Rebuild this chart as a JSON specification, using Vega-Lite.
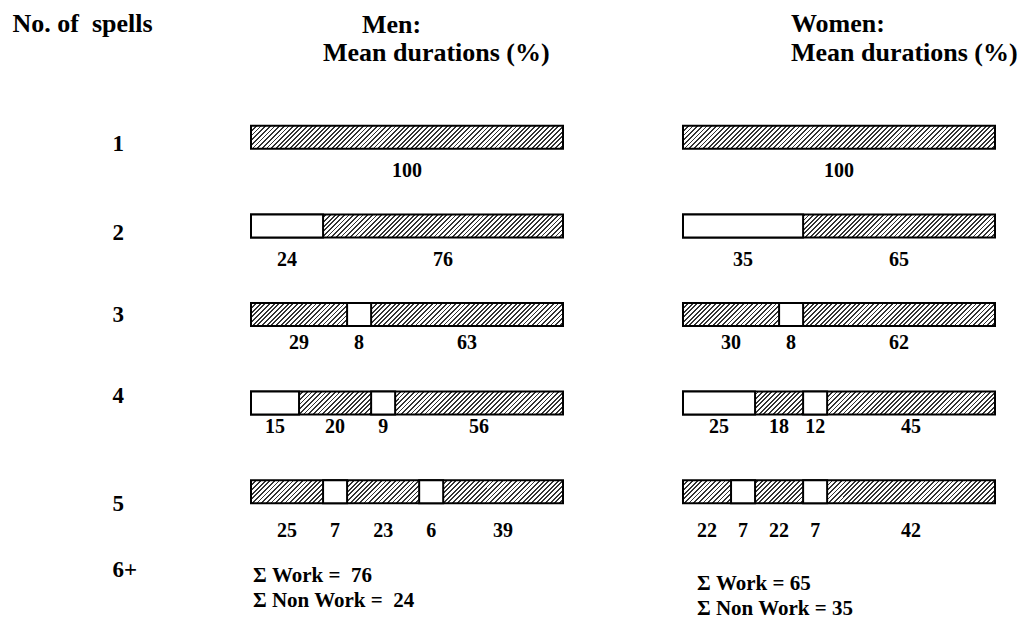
{
  "$schema": "https://vega.github.io/schema/vega-lite/v6.json",
  "background": "white",
  "padding": {"left": 12, "top": 10, "right": 0, "bottom": 0},
  "spacing": 120,
  "bounds": "flush",
  "config": {
    "font": "Liberation Serif",
    "view": {"stroke": null},
    "text": {"font": "Liberation Serif", "fontWeight": "bold", "color": "black"}
  },
  "datasets": {
    "segments": [
      {"sex": "Men", "spells": "1", "seq": 1, "kind": "Work", "drawn": 100, "pct": 100},
      {"sex": "Men", "spells": "2", "seq": 1, "kind": "Non work", "drawn": 23.1, "pct": 24},
      {"sex": "Men", "spells": "2", "seq": 2, "kind": "Work", "drawn": 76.9, "pct": 76},
      {"sex": "Men", "spells": "3", "seq": 1, "kind": "Work", "drawn": 30.8, "pct": 29},
      {"sex": "Men", "spells": "3", "seq": 2, "kind": "Non work", "drawn": 7.7, "pct": 8},
      {"sex": "Men", "spells": "3", "seq": 3, "kind": "Work", "drawn": 61.5, "pct": 63},
      {"sex": "Men", "spells": "4", "seq": 1, "kind": "Non work", "drawn": 15.4, "pct": 15},
      {"sex": "Men", "spells": "4", "seq": 2, "kind": "Work", "drawn": 23.1, "pct": 20},
      {"sex": "Men", "spells": "4", "seq": 3, "kind": "Non work", "drawn": 7.7, "pct": 9},
      {"sex": "Men", "spells": "4", "seq": 4, "kind": "Work", "drawn": 53.8, "pct": 56},
      {"sex": "Men", "spells": "5", "seq": 1, "kind": "Work", "drawn": 23.1, "pct": 25},
      {"sex": "Men", "spells": "5", "seq": 2, "kind": "Non work", "drawn": 7.7, "pct": 7},
      {"sex": "Men", "spells": "5", "seq": 3, "kind": "Work", "drawn": 23.1, "pct": 23},
      {"sex": "Men", "spells": "5", "seq": 4, "kind": "Non work", "drawn": 7.7, "pct": 6},
      {"sex": "Men", "spells": "5", "seq": 5, "kind": "Work", "drawn": 38.4, "pct": 39},
      {"sex": "Women", "spells": "1", "seq": 1, "kind": "Work", "drawn": 100, "pct": 100},
      {"sex": "Women", "spells": "2", "seq": 1, "kind": "Non work", "drawn": 38.5, "pct": 35},
      {"sex": "Women", "spells": "2", "seq": 2, "kind": "Work", "drawn": 61.5, "pct": 65},
      {"sex": "Women", "spells": "3", "seq": 1, "kind": "Work", "drawn": 30.8, "pct": 30},
      {"sex": "Women", "spells": "3", "seq": 2, "kind": "Non work", "drawn": 7.7, "pct": 8},
      {"sex": "Women", "spells": "3", "seq": 3, "kind": "Work", "drawn": 61.5, "pct": 62},
      {"sex": "Women", "spells": "4", "seq": 1, "kind": "Non work", "drawn": 23.1, "pct": 25},
      {"sex": "Women", "spells": "4", "seq": 2, "kind": "Work", "drawn": 15.4, "pct": 18},
      {"sex": "Women", "spells": "4", "seq": 3, "kind": "Non work", "drawn": 7.7, "pct": 12},
      {"sex": "Women", "spells": "4", "seq": 4, "kind": "Work", "drawn": 53.8, "pct": 45},
      {"sex": "Women", "spells": "5", "seq": 1, "kind": "Work", "drawn": 15.4, "pct": 22},
      {"sex": "Women", "spells": "5", "seq": 2, "kind": "Non work", "drawn": 7.7, "pct": 7},
      {"sex": "Women", "spells": "5", "seq": 3, "kind": "Work", "drawn": 15.4, "pct": 22},
      {"sex": "Women", "spells": "5", "seq": 4, "kind": "Non work", "drawn": 7.7, "pct": 7},
      {"sex": "Women", "spells": "5", "seq": 5, "kind": "Work", "drawn": 53.8, "pct": 42}
    ],
    "totals": [
      {"sex": "Men", "spells": "6+", "work": 76, "nonwork": 24},
      {"sex": "Women", "spells": "6+", "work": 65, "nonwork": 35}
    ]
  },
  "hconcat": [
    {
      "width": 312,
      "height": 531.6,
      "title": {
        "text": ["\u200b\u00a0\u00a0\u00a0\u00a0\u00a0\u00a0Men:", "Mean durations (%)"],
        "anchor": "start",
        "frame": "group",
        "dx": 72,
        "offset": -56,
        "font": "Liberation Serif",
        "fontSize": 26,
        "fontWeight": "bold",
        "lineHeight": 28.7,
        "color": "black"
      },
      "data": {"name": "segments"},
      "transform": [
        {"filter": "datum.sex == 'Men'"},
        {"stack": "drawn", "groupby": ["spells"], "sort": [{"field": "seq", "order": "ascending"}], "as": ["x0", "x1"]},
        {"calculate": "(datum.x0 + datum.x1) / 2", "as": "mid"}
      ],
      "encoding": {
        "y": {
          "field": "spells",
          "type": "ordinal",
          "scale": {"domain": ["1", "2", "3", "4", "5", "6+"], "paddingInner": 0, "paddingOuter": 0},
          "axis": {
            "title": "No. of\u00a0 spells",
            "titleAngle": 0,
            "titleAlign": "left",
            "titleBaseline": "alphabetic",
            "titleX": -239,
            "titleY": -61.7,
            "titleFont": "Liberation Serif",
            "titleFontSize": 26,
            "titleFontWeight": "bold",
            "titleColor": "black",
            "labelAlign": "left",
            "labelBaseline": "middle",
            "labelPadding": 139,
            "labelOffset": {"expr": "datum.value == '3' ? 1 : datum.value == '4' ? -7 : datum.value == '5' ? 12 : datum.value == '6+' ? -10 : 7"},
            "labelFont": "Liberation Serif",
            "labelFontSize": 23,
            "labelFontWeight": "bold",
            "labelColor": "black",
            "ticks": false,
            "tickSize": 0,
            "domain": false,
            "grid": false
          }
        }
      },
      "layer": [
        {
          "transform": [{"aggregate": [{"op": "min", "field": "x0", "as": "b0"}, {"op": "max", "field": "x1", "as": "b1"}], "groupby": ["spells"]}],
          "mark": {
            "type": "bar",
            "size": 23,
            "stroke": "black",
            "strokeWidth": 2,
            "fill": {
              "gradient": "linear", "x1": 0, "y1": 0, "x2": 1.0679, "y2": 0.0787,
              "stops": [
                {"offset":0,"color":"#333"},{"offset":0.00556,"color":"#333"},{"offset":0.00556,"color":"#fff"},{"offset":0.01389,"color":"#fff"},
                {"offset":0.01389,"color":"#333"},{"offset":0.01944,"color":"#333"},{"offset":0.01944,"color":"#fff"},{"offset":0.02778,"color":"#fff"},
                {"offset":0.02778,"color":"#333"},{"offset":0.03333,"color":"#333"},{"offset":0.03333,"color":"#fff"},{"offset":0.04167,"color":"#fff"},
                {"offset":0.04167,"color":"#333"},{"offset":0.04722,"color":"#333"},{"offset":0.04722,"color":"#fff"},{"offset":0.05556,"color":"#fff"},
                {"offset":0.05556,"color":"#333"},{"offset":0.06111,"color":"#333"},{"offset":0.06111,"color":"#fff"},{"offset":0.06944,"color":"#fff"},
                {"offset":0.06944,"color":"#333"},{"offset":0.075,"color":"#333"},{"offset":0.075,"color":"#fff"},{"offset":0.08333,"color":"#fff"},
                {"offset":0.08333,"color":"#333"},{"offset":0.08889,"color":"#333"},{"offset":0.08889,"color":"#fff"},{"offset":0.09722,"color":"#fff"},
                {"offset":0.09722,"color":"#333"},{"offset":0.10278,"color":"#333"},{"offset":0.10278,"color":"#fff"},{"offset":0.11111,"color":"#fff"},
                {"offset":0.11111,"color":"#333"},{"offset":0.11667,"color":"#333"},{"offset":0.11667,"color":"#fff"},{"offset":0.125,"color":"#fff"},
                {"offset":0.125,"color":"#333"},{"offset":0.13056,"color":"#333"},{"offset":0.13056,"color":"#fff"},{"offset":0.13889,"color":"#fff"},
                {"offset":0.13889,"color":"#333"},{"offset":0.14444,"color":"#333"},{"offset":0.14444,"color":"#fff"},{"offset":0.15278,"color":"#fff"},
                {"offset":0.15278,"color":"#333"},{"offset":0.15833,"color":"#333"},{"offset":0.15833,"color":"#fff"},{"offset":0.16667,"color":"#fff"},
                {"offset":0.16667,"color":"#333"},{"offset":0.17222,"color":"#333"},{"offset":0.17222,"color":"#fff"},{"offset":0.18056,"color":"#fff"},
                {"offset":0.18056,"color":"#333"},{"offset":0.18611,"color":"#333"},{"offset":0.18611,"color":"#fff"},{"offset":0.19444,"color":"#fff"},
                {"offset":0.19444,"color":"#333"},{"offset":0.2,"color":"#333"},{"offset":0.2,"color":"#fff"},{"offset":0.20833,"color":"#fff"},
                {"offset":0.20833,"color":"#333"},{"offset":0.21389,"color":"#333"},{"offset":0.21389,"color":"#fff"},{"offset":0.22222,"color":"#fff"},
                {"offset":0.22222,"color":"#333"},{"offset":0.22778,"color":"#333"},{"offset":0.22778,"color":"#fff"},{"offset":0.23611,"color":"#fff"},
                {"offset":0.23611,"color":"#333"},{"offset":0.24167,"color":"#333"},{"offset":0.24167,"color":"#fff"},{"offset":0.25,"color":"#fff"},
                {"offset":0.25,"color":"#333"},{"offset":0.25556,"color":"#333"},{"offset":0.25556,"color":"#fff"},{"offset":0.26389,"color":"#fff"},
                {"offset":0.26389,"color":"#333"},{"offset":0.26944,"color":"#333"},{"offset":0.26944,"color":"#fff"},{"offset":0.27778,"color":"#fff"},
                {"offset":0.27778,"color":"#333"},{"offset":0.28333,"color":"#333"},{"offset":0.28333,"color":"#fff"},{"offset":0.29167,"color":"#fff"},
                {"offset":0.29167,"color":"#333"},{"offset":0.29722,"color":"#333"},{"offset":0.29722,"color":"#fff"},{"offset":0.30556,"color":"#fff"},
                {"offset":0.30556,"color":"#333"},{"offset":0.31111,"color":"#333"},{"offset":0.31111,"color":"#fff"},{"offset":0.31944,"color":"#fff"},
                {"offset":0.31944,"color":"#333"},{"offset":0.325,"color":"#333"},{"offset":0.325,"color":"#fff"},{"offset":0.33333,"color":"#fff"},
                {"offset":0.33333,"color":"#333"},{"offset":0.33889,"color":"#333"},{"offset":0.33889,"color":"#fff"},{"offset":0.34722,"color":"#fff"},
                {"offset":0.34722,"color":"#333"},{"offset":0.35278,"color":"#333"},{"offset":0.35278,"color":"#fff"},{"offset":0.36111,"color":"#fff"},
                {"offset":0.36111,"color":"#333"},{"offset":0.36667,"color":"#333"},{"offset":0.36667,"color":"#fff"},{"offset":0.375,"color":"#fff"},
                {"offset":0.375,"color":"#333"},{"offset":0.38056,"color":"#333"},{"offset":0.38056,"color":"#fff"},{"offset":0.38889,"color":"#fff"},
                {"offset":0.38889,"color":"#333"},{"offset":0.39444,"color":"#333"},{"offset":0.39444,"color":"#fff"},{"offset":0.40278,"color":"#fff"},
                {"offset":0.40278,"color":"#333"},{"offset":0.40833,"color":"#333"},{"offset":0.40833,"color":"#fff"},{"offset":0.41667,"color":"#fff"},
                {"offset":0.41667,"color":"#333"},{"offset":0.42222,"color":"#333"},{"offset":0.42222,"color":"#fff"},{"offset":0.43056,"color":"#fff"},
                {"offset":0.43056,"color":"#333"},{"offset":0.43611,"color":"#333"},{"offset":0.43611,"color":"#fff"},{"offset":0.44444,"color":"#fff"},
                {"offset":0.44444,"color":"#333"},{"offset":0.45,"color":"#333"},{"offset":0.45,"color":"#fff"},{"offset":0.45833,"color":"#fff"},
                {"offset":0.45833,"color":"#333"},{"offset":0.46389,"color":"#333"},{"offset":0.46389,"color":"#fff"},{"offset":0.47222,"color":"#fff"},
                {"offset":0.47222,"color":"#333"},{"offset":0.47778,"color":"#333"},{"offset":0.47778,"color":"#fff"},{"offset":0.48611,"color":"#fff"},
                {"offset":0.48611,"color":"#333"},{"offset":0.49167,"color":"#333"},{"offset":0.49167,"color":"#fff"},{"offset":0.5,"color":"#fff"},
                {"offset":0.5,"color":"#333"},{"offset":0.50556,"color":"#333"},{"offset":0.50556,"color":"#fff"},{"offset":0.51389,"color":"#fff"},
                {"offset":0.51389,"color":"#333"},{"offset":0.51944,"color":"#333"},{"offset":0.51944,"color":"#fff"},{"offset":0.52778,"color":"#fff"},
                {"offset":0.52778,"color":"#333"},{"offset":0.53333,"color":"#333"},{"offset":0.53333,"color":"#fff"},{"offset":0.54167,"color":"#fff"},
                {"offset":0.54167,"color":"#333"},{"offset":0.54722,"color":"#333"},{"offset":0.54722,"color":"#fff"},{"offset":0.55556,"color":"#fff"},
                {"offset":0.55556,"color":"#333"},{"offset":0.56111,"color":"#333"},{"offset":0.56111,"color":"#fff"},{"offset":0.56944,"color":"#fff"},
                {"offset":0.56944,"color":"#333"},{"offset":0.575,"color":"#333"},{"offset":0.575,"color":"#fff"},{"offset":0.58333,"color":"#fff"},
                {"offset":0.58333,"color":"#333"},{"offset":0.58889,"color":"#333"},{"offset":0.58889,"color":"#fff"},{"offset":0.59722,"color":"#fff"},
                {"offset":0.59722,"color":"#333"},{"offset":0.60278,"color":"#333"},{"offset":0.60278,"color":"#fff"},{"offset":0.61111,"color":"#fff"},
                {"offset":0.61111,"color":"#333"},{"offset":0.61667,"color":"#333"},{"offset":0.61667,"color":"#fff"},{"offset":0.625,"color":"#fff"},
                {"offset":0.625,"color":"#333"},{"offset":0.63056,"color":"#333"},{"offset":0.63056,"color":"#fff"},{"offset":0.63889,"color":"#fff"},
                {"offset":0.63889,"color":"#333"},{"offset":0.64444,"color":"#333"},{"offset":0.64444,"color":"#fff"},{"offset":0.65278,"color":"#fff"},
                {"offset":0.65278,"color":"#333"},{"offset":0.65833,"color":"#333"},{"offset":0.65833,"color":"#fff"},{"offset":0.66667,"color":"#fff"},
                {"offset":0.66667,"color":"#333"},{"offset":0.67222,"color":"#333"},{"offset":0.67222,"color":"#fff"},{"offset":0.68056,"color":"#fff"},
                {"offset":0.68056,"color":"#333"},{"offset":0.68611,"color":"#333"},{"offset":0.68611,"color":"#fff"},{"offset":0.69444,"color":"#fff"},
                {"offset":0.69444,"color":"#333"},{"offset":0.7,"color":"#333"},{"offset":0.7,"color":"#fff"},{"offset":0.70833,"color":"#fff"},
                {"offset":0.70833,"color":"#333"},{"offset":0.71389,"color":"#333"},{"offset":0.71389,"color":"#fff"},{"offset":0.72222,"color":"#fff"},
                {"offset":0.72222,"color":"#333"},{"offset":0.72778,"color":"#333"},{"offset":0.72778,"color":"#fff"},{"offset":0.73611,"color":"#fff"},
                {"offset":0.73611,"color":"#333"},{"offset":0.74167,"color":"#333"},{"offset":0.74167,"color":"#fff"},{"offset":0.75,"color":"#fff"},
                {"offset":0.75,"color":"#333"},{"offset":0.75556,"color":"#333"},{"offset":0.75556,"color":"#fff"},{"offset":0.76389,"color":"#fff"},
                {"offset":0.76389,"color":"#333"},{"offset":0.76944,"color":"#333"},{"offset":0.76944,"color":"#fff"},{"offset":0.77778,"color":"#fff"},
                {"offset":0.77778,"color":"#333"},{"offset":0.78333,"color":"#333"},{"offset":0.78333,"color":"#fff"},{"offset":0.79167,"color":"#fff"},
                {"offset":0.79167,"color":"#333"},{"offset":0.79722,"color":"#333"},{"offset":0.79722,"color":"#fff"},{"offset":0.80556,"color":"#fff"},
                {"offset":0.80556,"color":"#333"},{"offset":0.81111,"color":"#333"},{"offset":0.81111,"color":"#fff"},{"offset":0.81944,"color":"#fff"},
                {"offset":0.81944,"color":"#333"},{"offset":0.825,"color":"#333"},{"offset":0.825,"color":"#fff"},{"offset":0.83333,"color":"#fff"},
                {"offset":0.83333,"color":"#333"},{"offset":0.83889,"color":"#333"},{"offset":0.83889,"color":"#fff"},{"offset":0.84722,"color":"#fff"},
                {"offset":0.84722,"color":"#333"},{"offset":0.85278,"color":"#333"},{"offset":0.85278,"color":"#fff"},{"offset":0.86111,"color":"#fff"},
                {"offset":0.86111,"color":"#333"},{"offset":0.86667,"color":"#333"},{"offset":0.86667,"color":"#fff"},{"offset":0.875,"color":"#fff"},
                {"offset":0.875,"color":"#333"},{"offset":0.88056,"color":"#333"},{"offset":0.88056,"color":"#fff"},{"offset":0.88889,"color":"#fff"},
                {"offset":0.88889,"color":"#333"},{"offset":0.89444,"color":"#333"},{"offset":0.89444,"color":"#fff"},{"offset":0.90278,"color":"#fff"},
                {"offset":0.90278,"color":"#333"},{"offset":0.90833,"color":"#333"},{"offset":0.90833,"color":"#fff"},{"offset":0.91667,"color":"#fff"},
                {"offset":0.91667,"color":"#333"},{"offset":0.92222,"color":"#333"},{"offset":0.92222,"color":"#fff"},{"offset":0.93056,"color":"#fff"},
                {"offset":0.93056,"color":"#333"},{"offset":0.93611,"color":"#333"},{"offset":0.93611,"color":"#fff"},{"offset":0.94444,"color":"#fff"},
                {"offset":0.94444,"color":"#333"},{"offset":0.95,"color":"#333"},{"offset":0.95,"color":"#fff"},{"offset":0.95833,"color":"#fff"},
                {"offset":0.95833,"color":"#333"},{"offset":0.96389,"color":"#333"},{"offset":0.96389,"color":"#fff"},{"offset":0.97222,"color":"#fff"},
                {"offset":0.97222,"color":"#333"},{"offset":0.97778,"color":"#333"},{"offset":0.97778,"color":"#fff"},{"offset":0.98611,"color":"#fff"},
                {"offset":0.98611,"color":"#333"},{"offset":0.99167,"color":"#333"},{"offset":0.99167,"color":"#fff"},{"offset":1,"color":"#fff"}
              ]
            }
          },
          "encoding": {
            "x": {"field": "b0", "type": "quantitative", "scale": {"domain": [0, 100], "nice": false}, "axis": null},
            "x2": {"field": "b1"}
          }
        },
        {
          "transform": [{"filter": "datum.kind == 'Non work'"}],
          "mark": {"type": "bar", "size": 23, "fill": "white", "stroke": "black", "strokeWidth": 2},
          "encoding": {
            "x": {"field": "x0", "type": "quantitative", "scale": {"domain": [0, 100], "nice": false}, "axis": null},
            "x2": {"field": "x1"}
          }
        },
        {
          "mark": {"type": "text", "fontSize": 20, "baseline": "middle", "dy": {"expr": "datum.spells == '3' ? 29 : datum.spells == '4' ? 24 : datum.spells == '5' ? 39.5 : 34"}},
          "encoding": {
            "x": {"field": "mid", "type": "quantitative", "scale": {"domain": [0, 100], "nice": false}, "axis": null},
            "text": {"field": "pct", "type": "quantitative"}
          }
        },
        {
          "data": {"name": "totals"},
          "transform": [{"filter": "datum.sex == 'Men'"}, {"calculate": "'Σ Work =\u00a0 ' + datum.work", "as": "line"}],
          "mark": {"type": "text", "fontSize": 21, "align": "left", "baseline": "middle", "dx": 2, "dy": -4},
          "encoding": {
            "x": {"datum": 0, "type": "quantitative", "scale": {"domain": [0, 100], "nice": false}, "axis": null},
            "text": {"field": "line", "type": "nominal"}
          }
        },
        {
          "data": {"name": "totals"},
          "transform": [{"filter": "datum.sex == 'Men'"}, {"calculate": "'Σ Non Work =\u00a0 ' + datum.nonwork", "as": "line"}],
          "mark": {"type": "text", "fontSize": 21, "align": "left", "baseline": "middle", "dx": 2, "dy": 21},
          "encoding": {
            "x": {"datum": 0, "type": "quantitative", "scale": {"domain": [0, 100], "nice": false}, "axis": null},
            "text": {"field": "line", "type": "nominal"}
          }
        }
      ]
    },
    {
      "width": 312,
      "height": 531.6,
      "title": {
        "text": ["Women:", "Mean durations (%)"],
        "anchor": "start",
        "frame": "group",
        "dx": 108,
        "offset": 27,
        "font": "Liberation Serif",
        "fontSize": 26,
        "fontWeight": "bold",
        "lineHeight": 28.7,
        "color": "black"
      },
      "data": {"name": "segments"},
      "transform": [
        {"filter": "datum.sex == 'Women'"},
        {"stack": "drawn", "groupby": ["spells"], "sort": [{"field": "seq", "order": "ascending"}], "as": ["x0", "x1"]},
        {"calculate": "(datum.x0 + datum.x1) / 2", "as": "mid"}
      ],
      "encoding": {
        "y": {
          "field": "spells",
          "type": "ordinal",
          "scale": {"domain": ["1", "2", "3", "4", "5", "6+"], "paddingInner": 0, "paddingOuter": 0},
          "axis": null
        }
      },
      "layer": [
        {
          "transform": [{"aggregate": [{"op": "min", "field": "x0", "as": "b0"}, {"op": "max", "field": "x1", "as": "b1"}], "groupby": ["spells"]}],
          "mark": {
            "type": "bar",
            "size": 23,
            "stroke": "black",
            "strokeWidth": 2,
            "fill": {
              "gradient": "linear", "x1": 0, "y1": 0, "x2": 1.0679, "y2": 0.0787,
              "stops": [
                {"offset":0,"color":"#333"},{"offset":0.00556,"color":"#333"},{"offset":0.00556,"color":"#fff"},{"offset":0.01389,"color":"#fff"},
                {"offset":0.01389,"color":"#333"},{"offset":0.01944,"color":"#333"},{"offset":0.01944,"color":"#fff"},{"offset":0.02778,"color":"#fff"},
                {"offset":0.02778,"color":"#333"},{"offset":0.03333,"color":"#333"},{"offset":0.03333,"color":"#fff"},{"offset":0.04167,"color":"#fff"},
                {"offset":0.04167,"color":"#333"},{"offset":0.04722,"color":"#333"},{"offset":0.04722,"color":"#fff"},{"offset":0.05556,"color":"#fff"},
                {"offset":0.05556,"color":"#333"},{"offset":0.06111,"color":"#333"},{"offset":0.06111,"color":"#fff"},{"offset":0.06944,"color":"#fff"},
                {"offset":0.06944,"color":"#333"},{"offset":0.075,"color":"#333"},{"offset":0.075,"color":"#fff"},{"offset":0.08333,"color":"#fff"},
                {"offset":0.08333,"color":"#333"},{"offset":0.08889,"color":"#333"},{"offset":0.08889,"color":"#fff"},{"offset":0.09722,"color":"#fff"},
                {"offset":0.09722,"color":"#333"},{"offset":0.10278,"color":"#333"},{"offset":0.10278,"color":"#fff"},{"offset":0.11111,"color":"#fff"},
                {"offset":0.11111,"color":"#333"},{"offset":0.11667,"color":"#333"},{"offset":0.11667,"color":"#fff"},{"offset":0.125,"color":"#fff"},
                {"offset":0.125,"color":"#333"},{"offset":0.13056,"color":"#333"},{"offset":0.13056,"color":"#fff"},{"offset":0.13889,"color":"#fff"},
                {"offset":0.13889,"color":"#333"},{"offset":0.14444,"color":"#333"},{"offset":0.14444,"color":"#fff"},{"offset":0.15278,"color":"#fff"},
                {"offset":0.15278,"color":"#333"},{"offset":0.15833,"color":"#333"},{"offset":0.15833,"color":"#fff"},{"offset":0.16667,"color":"#fff"},
                {"offset":0.16667,"color":"#333"},{"offset":0.17222,"color":"#333"},{"offset":0.17222,"color":"#fff"},{"offset":0.18056,"color":"#fff"},
                {"offset":0.18056,"color":"#333"},{"offset":0.18611,"color":"#333"},{"offset":0.18611,"color":"#fff"},{"offset":0.19444,"color":"#fff"},
                {"offset":0.19444,"color":"#333"},{"offset":0.2,"color":"#333"},{"offset":0.2,"color":"#fff"},{"offset":0.20833,"color":"#fff"},
                {"offset":0.20833,"color":"#333"},{"offset":0.21389,"color":"#333"},{"offset":0.21389,"color":"#fff"},{"offset":0.22222,"color":"#fff"},
                {"offset":0.22222,"color":"#333"},{"offset":0.22778,"color":"#333"},{"offset":0.22778,"color":"#fff"},{"offset":0.23611,"color":"#fff"},
                {"offset":0.23611,"color":"#333"},{"offset":0.24167,"color":"#333"},{"offset":0.24167,"color":"#fff"},{"offset":0.25,"color":"#fff"},
                {"offset":0.25,"color":"#333"},{"offset":0.25556,"color":"#333"},{"offset":0.25556,"color":"#fff"},{"offset":0.26389,"color":"#fff"},
                {"offset":0.26389,"color":"#333"},{"offset":0.26944,"color":"#333"},{"offset":0.26944,"color":"#fff"},{"offset":0.27778,"color":"#fff"},
                {"offset":0.27778,"color":"#333"},{"offset":0.28333,"color":"#333"},{"offset":0.28333,"color":"#fff"},{"offset":0.29167,"color":"#fff"},
                {"offset":0.29167,"color":"#333"},{"offset":0.29722,"color":"#333"},{"offset":0.29722,"color":"#fff"},{"offset":0.30556,"color":"#fff"},
                {"offset":0.30556,"color":"#333"},{"offset":0.31111,"color":"#333"},{"offset":0.31111,"color":"#fff"},{"offset":0.31944,"color":"#fff"},
                {"offset":0.31944,"color":"#333"},{"offset":0.325,"color":"#333"},{"offset":0.325,"color":"#fff"},{"offset":0.33333,"color":"#fff"},
                {"offset":0.33333,"color":"#333"},{"offset":0.33889,"color":"#333"},{"offset":0.33889,"color":"#fff"},{"offset":0.34722,"color":"#fff"},
                {"offset":0.34722,"color":"#333"},{"offset":0.35278,"color":"#333"},{"offset":0.35278,"color":"#fff"},{"offset":0.36111,"color":"#fff"},
                {"offset":0.36111,"color":"#333"},{"offset":0.36667,"color":"#333"},{"offset":0.36667,"color":"#fff"},{"offset":0.375,"color":"#fff"},
                {"offset":0.375,"color":"#333"},{"offset":0.38056,"color":"#333"},{"offset":0.38056,"color":"#fff"},{"offset":0.38889,"color":"#fff"},
                {"offset":0.38889,"color":"#333"},{"offset":0.39444,"color":"#333"},{"offset":0.39444,"color":"#fff"},{"offset":0.40278,"color":"#fff"},
                {"offset":0.40278,"color":"#333"},{"offset":0.40833,"color":"#333"},{"offset":0.40833,"color":"#fff"},{"offset":0.41667,"color":"#fff"},
                {"offset":0.41667,"color":"#333"},{"offset":0.42222,"color":"#333"},{"offset":0.42222,"color":"#fff"},{"offset":0.43056,"color":"#fff"},
                {"offset":0.43056,"color":"#333"},{"offset":0.43611,"color":"#333"},{"offset":0.43611,"color":"#fff"},{"offset":0.44444,"color":"#fff"},
                {"offset":0.44444,"color":"#333"},{"offset":0.45,"color":"#333"},{"offset":0.45,"color":"#fff"},{"offset":0.45833,"color":"#fff"},
                {"offset":0.45833,"color":"#333"},{"offset":0.46389,"color":"#333"},{"offset":0.46389,"color":"#fff"},{"offset":0.47222,"color":"#fff"},
                {"offset":0.47222,"color":"#333"},{"offset":0.47778,"color":"#333"},{"offset":0.47778,"color":"#fff"},{"offset":0.48611,"color":"#fff"},
                {"offset":0.48611,"color":"#333"},{"offset":0.49167,"color":"#333"},{"offset":0.49167,"color":"#fff"},{"offset":0.5,"color":"#fff"},
                {"offset":0.5,"color":"#333"},{"offset":0.50556,"color":"#333"},{"offset":0.50556,"color":"#fff"},{"offset":0.51389,"color":"#fff"},
                {"offset":0.51389,"color":"#333"},{"offset":0.51944,"color":"#333"},{"offset":0.51944,"color":"#fff"},{"offset":0.52778,"color":"#fff"},
                {"offset":0.52778,"color":"#333"},{"offset":0.53333,"color":"#333"},{"offset":0.53333,"color":"#fff"},{"offset":0.54167,"color":"#fff"},
                {"offset":0.54167,"color":"#333"},{"offset":0.54722,"color":"#333"},{"offset":0.54722,"color":"#fff"},{"offset":0.55556,"color":"#fff"},
                {"offset":0.55556,"color":"#333"},{"offset":0.56111,"color":"#333"},{"offset":0.56111,"color":"#fff"},{"offset":0.56944,"color":"#fff"},
                {"offset":0.56944,"color":"#333"},{"offset":0.575,"color":"#333"},{"offset":0.575,"color":"#fff"},{"offset":0.58333,"color":"#fff"},
                {"offset":0.58333,"color":"#333"},{"offset":0.58889,"color":"#333"},{"offset":0.58889,"color":"#fff"},{"offset":0.59722,"color":"#fff"},
                {"offset":0.59722,"color":"#333"},{"offset":0.60278,"color":"#333"},{"offset":0.60278,"color":"#fff"},{"offset":0.61111,"color":"#fff"},
                {"offset":0.61111,"color":"#333"},{"offset":0.61667,"color":"#333"},{"offset":0.61667,"color":"#fff"},{"offset":0.625,"color":"#fff"},
                {"offset":0.625,"color":"#333"},{"offset":0.63056,"color":"#333"},{"offset":0.63056,"color":"#fff"},{"offset":0.63889,"color":"#fff"},
                {"offset":0.63889,"color":"#333"},{"offset":0.64444,"color":"#333"},{"offset":0.64444,"color":"#fff"},{"offset":0.65278,"color":"#fff"},
                {"offset":0.65278,"color":"#333"},{"offset":0.65833,"color":"#333"},{"offset":0.65833,"color":"#fff"},{"offset":0.66667,"color":"#fff"},
                {"offset":0.66667,"color":"#333"},{"offset":0.67222,"color":"#333"},{"offset":0.67222,"color":"#fff"},{"offset":0.68056,"color":"#fff"},
                {"offset":0.68056,"color":"#333"},{"offset":0.68611,"color":"#333"},{"offset":0.68611,"color":"#fff"},{"offset":0.69444,"color":"#fff"},
                {"offset":0.69444,"color":"#333"},{"offset":0.7,"color":"#333"},{"offset":0.7,"color":"#fff"},{"offset":0.70833,"color":"#fff"},
                {"offset":0.70833,"color":"#333"},{"offset":0.71389,"color":"#333"},{"offset":0.71389,"color":"#fff"},{"offset":0.72222,"color":"#fff"},
                {"offset":0.72222,"color":"#333"},{"offset":0.72778,"color":"#333"},{"offset":0.72778,"color":"#fff"},{"offset":0.73611,"color":"#fff"},
                {"offset":0.73611,"color":"#333"},{"offset":0.74167,"color":"#333"},{"offset":0.74167,"color":"#fff"},{"offset":0.75,"color":"#fff"},
                {"offset":0.75,"color":"#333"},{"offset":0.75556,"color":"#333"},{"offset":0.75556,"color":"#fff"},{"offset":0.76389,"color":"#fff"},
                {"offset":0.76389,"color":"#333"},{"offset":0.76944,"color":"#333"},{"offset":0.76944,"color":"#fff"},{"offset":0.77778,"color":"#fff"},
                {"offset":0.77778,"color":"#333"},{"offset":0.78333,"color":"#333"},{"offset":0.78333,"color":"#fff"},{"offset":0.79167,"color":"#fff"},
                {"offset":0.79167,"color":"#333"},{"offset":0.79722,"color":"#333"},{"offset":0.79722,"color":"#fff"},{"offset":0.80556,"color":"#fff"},
                {"offset":0.80556,"color":"#333"},{"offset":0.81111,"color":"#333"},{"offset":0.81111,"color":"#fff"},{"offset":0.81944,"color":"#fff"},
                {"offset":0.81944,"color":"#333"},{"offset":0.825,"color":"#333"},{"offset":0.825,"color":"#fff"},{"offset":0.83333,"color":"#fff"},
                {"offset":0.83333,"color":"#333"},{"offset":0.83889,"color":"#333"},{"offset":0.83889,"color":"#fff"},{"offset":0.84722,"color":"#fff"},
                {"offset":0.84722,"color":"#333"},{"offset":0.85278,"color":"#333"},{"offset":0.85278,"color":"#fff"},{"offset":0.86111,"color":"#fff"},
                {"offset":0.86111,"color":"#333"},{"offset":0.86667,"color":"#333"},{"offset":0.86667,"color":"#fff"},{"offset":0.875,"color":"#fff"},
                {"offset":0.875,"color":"#333"},{"offset":0.88056,"color":"#333"},{"offset":0.88056,"color":"#fff"},{"offset":0.88889,"color":"#fff"},
                {"offset":0.88889,"color":"#333"},{"offset":0.89444,"color":"#333"},{"offset":0.89444,"color":"#fff"},{"offset":0.90278,"color":"#fff"},
                {"offset":0.90278,"color":"#333"},{"offset":0.90833,"color":"#333"},{"offset":0.90833,"color":"#fff"},{"offset":0.91667,"color":"#fff"},
                {"offset":0.91667,"color":"#333"},{"offset":0.92222,"color":"#333"},{"offset":0.92222,"color":"#fff"},{"offset":0.93056,"color":"#fff"},
                {"offset":0.93056,"color":"#333"},{"offset":0.93611,"color":"#333"},{"offset":0.93611,"color":"#fff"},{"offset":0.94444,"color":"#fff"},
                {"offset":0.94444,"color":"#333"},{"offset":0.95,"color":"#333"},{"offset":0.95,"color":"#fff"},{"offset":0.95833,"color":"#fff"},
                {"offset":0.95833,"color":"#333"},{"offset":0.96389,"color":"#333"},{"offset":0.96389,"color":"#fff"},{"offset":0.97222,"color":"#fff"},
                {"offset":0.97222,"color":"#333"},{"offset":0.97778,"color":"#333"},{"offset":0.97778,"color":"#fff"},{"offset":0.98611,"color":"#fff"},
                {"offset":0.98611,"color":"#333"},{"offset":0.99167,"color":"#333"},{"offset":0.99167,"color":"#fff"},{"offset":1,"color":"#fff"}
              ]
            }
          },
          "encoding": {
            "x": {"field": "b0", "type": "quantitative", "scale": {"domain": [0, 100], "nice": false}, "axis": null},
            "x2": {"field": "b1"}
          }
        },
        {
          "transform": [{"filter": "datum.kind == 'Non work'"}],
          "mark": {"type": "bar", "size": 23, "fill": "white", "stroke": "black", "strokeWidth": 2},
          "encoding": {
            "x": {"field": "x0", "type": "quantitative", "scale": {"domain": [0, 100], "nice": false}, "axis": null},
            "x2": {"field": "x1"}
          }
        },
        {
          "mark": {"type": "text", "fontSize": 20, "baseline": "middle", "dy": {"expr": "datum.spells == '3' ? 29 : datum.spells == '4' ? 24 : datum.spells == '5' ? 39.5 : 34"}},
          "encoding": {
            "x": {"field": "mid", "type": "quantitative", "scale": {"domain": [0, 100], "nice": false}, "axis": null},
            "text": {"field": "pct", "type": "quantitative"}
          }
        },
        {
          "data": {"name": "totals"},
          "transform": [{"filter": "datum.sex == 'Women'"}, {"calculate": "'Σ Work = ' + datum.work", "as": "line"}],
          "mark": {"type": "text", "fontSize": 21, "align": "left", "baseline": "middle", "dx": 14, "dy": 4},
          "encoding": {
            "x": {"datum": 0, "type": "quantitative", "scale": {"domain": [0, 100], "nice": false}, "axis": null},
            "text": {"field": "line", "type": "nominal"}
          }
        },
        {
          "data": {"name": "totals"},
          "transform": [{"filter": "datum.sex == 'Women'"}, {"calculate": "'Σ Non Work = ' + datum.nonwork", "as": "line"}],
          "mark": {"type": "text", "fontSize": 21, "align": "left", "baseline": "middle", "dx": 14, "dy": 29},
          "encoding": {
            "x": {"datum": 0, "type": "quantitative", "scale": {"domain": [0, 100], "nice": false}, "axis": null},
            "text": {"field": "line", "type": "nominal"}
          }
        }
      ]
    }
  ]
}
